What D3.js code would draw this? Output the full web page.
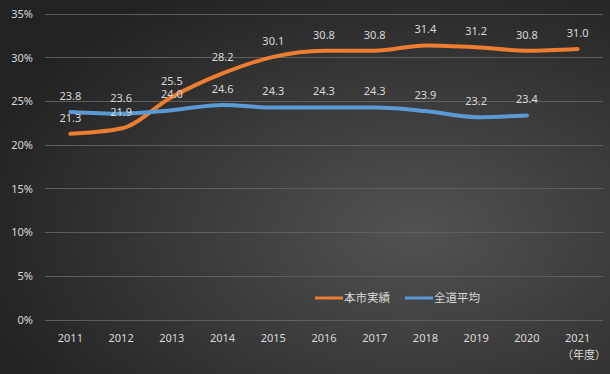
<!DOCTYPE html>
<html><head><meta charset="utf-8">
<script src="https://cdn.jsdelivr.net/npm/d3@7"></script>
<style>html,body{margin:0;padding:0;background:#2a2a2a;}svg{display:block;}</style>
</head><body>
<svg id="c" width="610" height="374"></svg>
<script>
const years = ["2011","2012","2013","2014","2015","2016","2017","2018","2019","2020","2021"];
const cityValues = [21.3,21.9,25.5,28.2,30.1,30.8,30.8,31.4,31.2,30.8,31.0];
const hokkaidoValues = [23.8,23.6,24.0,24.6,24.3,24.3,24.3,23.9,23.2,23.4,null];
const yTicks = [0,5,10,15,20,25,30,35];
const seriesNames = ["本市実績","全道平均"];
const seriesColors = ["#ED7D31","#5B9BD5"];

const svg = d3.select("#c");
const W = 610, H = 374;
const defs = svg.append("defs");
const grad = defs.append("radialGradient").attr("id","bg")
  .attr("cx","0.68").attr("cy","0.62").attr("r","0.75");
grad.append("stop").attr("offset","0").attr("stop-color","#525252");
grad.append("stop").attr("offset","1").attr("stop-color","#222222");
svg.append("rect").attr("width",W).attr("height",H).attr("fill","url(#bg)");

const font = "'Noto Sans','Noto Sans CJK JP',sans-serif";
const x = d3.scaleBand().domain(years).range([45,603]);
const y = d3.scaleLinear().domain([0,35]).range([320,14]);
const cx = d => x(d) + x.bandwidth()/2;

// gridlines
svg.append("g").selectAll("line").data(yTicks).join("line")
  .attr("x1",45).attr("x2",603).attr("y1",d=>y(d)).attr("y2",d=>y(d))
  .attr("stroke","#5e5e5e").attr("stroke-width",1).attr("shape-rendering","crispEdges");

// y labels
svg.append("g").selectAll("text").data(yTicks).join("text")
  .attr("x",33).attr("y",d=>y(d)).attr("dy","0.35em").attr("text-anchor","end")
  .attr("fill","#d9d9d9").attr("font-family",font).attr("font-size",11)
  .text(d=>d+"%");

// x labels
svg.append("g").selectAll("text").data(years).join("text")
  .attr("x",d=>cx(d)).attr("y",338).attr("dy","0.35em").attr("text-anchor","middle")
  .attr("fill","#d9d9d9").attr("font-family",font).attr("font-size",11)
  .text(d=>d);
svg.append("text").attr("x",584).attr("y",355).attr("dy","0.35em").attr("text-anchor","middle")
  .attr("fill","#d9d9d9").attr("font-family",font).attr("font-size",11).text("（年度）");

const series = [cityValues, hokkaidoValues];
const line = d3.line().defined(d=>d.v!=null).x(d=>cx(d.k)).y(d=>y(d.v)).curve(d3.curveMonotoneX);
series.forEach((vals,i)=>{
  const pts = years.map((k,j)=>({k, v: vals[j]}));
  svg.append("path").datum(pts).attr("d",line).attr("fill","none")
    .attr("stroke",seriesColors[i]).attr("stroke-width",4)
    .attr("stroke-linecap","round").attr("stroke-linejoin","round");
});
series.forEach((vals,i)=>{
  const pts = years.map((k,j)=>({k, v: vals[j]})).filter(d=>d.v!=null);
  svg.append("g").selectAll("text").data(pts).join("text")
    .attr("x",d=>cx(d.k)).attr("y",d=>y(d.v)-16).attr("dy","0.35em").attr("text-anchor","middle")
    .attr("fill","#d9d9d9").attr("font-family",font).attr("font-size",11)
    .text(d=>d.v.toFixed(1));
});

// legend
const leg = [{x:315},{x:405}];
leg.forEach((l,i)=>{
  svg.append("line").attr("x1",l.x).attr("x2",l.x+28).attr("y1",298).attr("y2",298)
    .attr("stroke",seriesColors[i]).attr("stroke-width",3);
  svg.append("text").attr("x",l.x+29).attr("y",298).attr("dy","0.35em")
    .attr("fill","#d9d9d9").attr("font-family",font).attr("font-size",11.5)
    .text(seriesNames[i]);
});
</script>
</body></html>
